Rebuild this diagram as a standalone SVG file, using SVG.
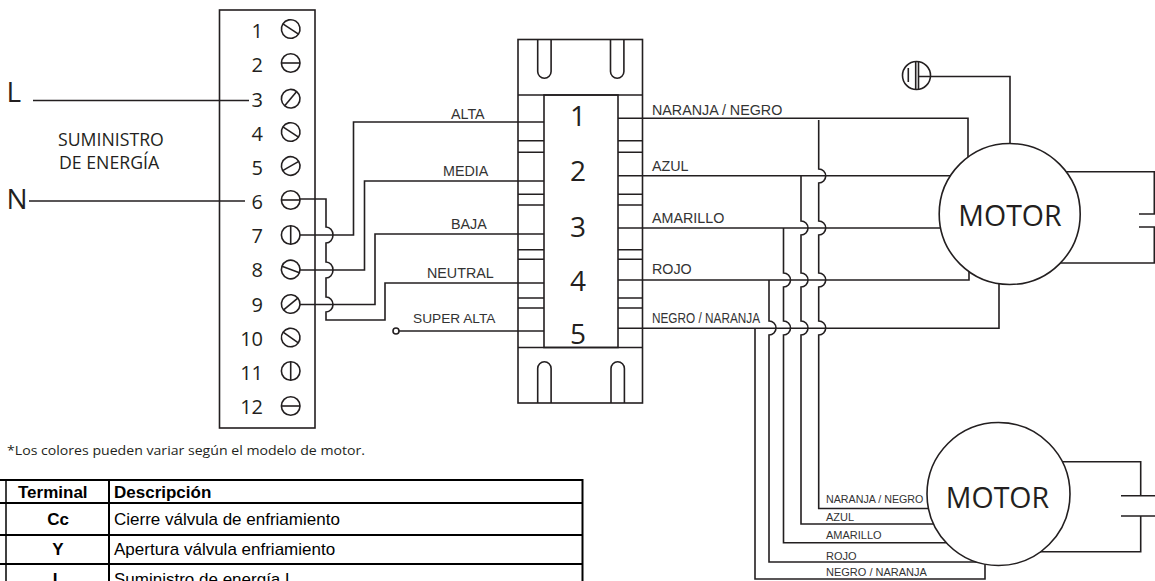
<svg xmlns="http://www.w3.org/2000/svg" width="1155" height="581" viewBox="0 0 1155 581">
<style>
.s{fill:none;stroke:#231f20;stroke-width:1.6}
.sf{fill:#fff;stroke:#231f20;stroke-width:1.6}
.t{stroke:#231f20;stroke-width:1.5;fill:none}
.n{font-family:"Open Sans",sans-serif;font-size:20px;fill:#231f20;text-anchor:end}
.c{font-family:"Open Sans",sans-serif;font-size:28px;fill:#231f20;text-anchor:middle}
.l{font-family:"Liberation Sans",Arial,sans-serif;font-size:14.3px;fill:#333}
.m{font-family:"Liberation Sans",Arial,sans-serif;font-size:11px;fill:#333}
.o{font-family:"Open Sans",sans-serif;fill:#231f20}
.h{font-family:"Liberation Sans",Arial,sans-serif;font-size:17px;fill:#000}
.hb{font-weight:700}
.tl{fill:none;stroke:#000;stroke-width:2}
</style>
<defs>
<g id="screw"><circle r="9.3" class="sf"/><line x1="-9.3" x2="9.3" class="s"/></g>
</defs>

<g id="table">
<path class="tl" d="M0 480H582.5V581M0 503H582.5M0 535H582.5M0 564H582.5M109 480V581"/>
<path d="M6 480V581" fill="none" stroke="#000" stroke-width="1.5"/>
<text class="h hb" x="18" y="498">Terminal</text>
<text class="h hb" x="114" y="498">Descripción</text>
<text class="h hb" x="58" y="525" text-anchor="middle">Cc</text>
<text class="h" x="114" y="525">Cierre válvula de enfriamiento</text>
<text class="h hb" x="58" y="555" text-anchor="middle">Y</text>
<text class="h" x="114" y="555">Apertura válvula enfriamiento</text>
<text class="h hb" x="58" y="585" text-anchor="middle">L</text>
<text class="h" x="114" y="585">Suministro de energía L</text>
</g>

<g id="supply">
<text class="o" x="6.5" y="102" font-size="28">L</text>
<text class="o" x="6.5" y="209" font-size="28">N</text>
<text class="o" x="58" y="146" font-size="17.7">SUMINISTRO</text>
<text class="o" x="59" y="169" font-size="17.7">DE ENERGÍA</text>
<text class="o" x="7" y="455" font-size="13" textLength="358" lengthAdjust="spacingAndGlyphs">*Los colores pueden variar según el modelo de motor.</text>
</g>

<g id="terminal-block">
<rect x="219.5" y="10" width="95.5" height="418" class="s"/>
<g class="numbers">
<text class="n" x="263" y="38">1</text><text class="n" x="263" y="72">2</text><text class="n" x="263" y="107">3</text><text class="n" x="263" y="141">4</text><text class="n" x="263" y="175">5</text><text class="n" x="263" y="209">6</text><text class="n" x="263" y="243">7</text><text class="n" x="263" y="277">8</text><text class="n" x="263" y="312">9</text><text class="n" x="263" y="346">10</text><text class="n" x="263" y="380">11</text><text class="n" x="263" y="414">12</text>
</g>
<use href="#screw" transform="translate(290.7,29) rotate(33)"/>
<use href="#screw" transform="translate(290.7,63)"/>
<use href="#screw" transform="translate(290.7,98.7) rotate(-50)"/>
<use href="#screw" transform="translate(290.7,132) rotate(33)"/>
<use href="#screw" transform="translate(290.7,166) rotate(-30)"/>
<use href="#screw" transform="translate(290.7,200)"/>
<use href="#screw" transform="translate(290.7,235) rotate(90)"/>
<use href="#screw" transform="translate(290.7,269.5) rotate(20)"/>
<use href="#screw" transform="translate(290.7,304) rotate(-40)"/>
<use href="#screw" transform="translate(290.7,337.5) rotate(35)"/>
<use href="#screw" transform="translate(290.7,371)  rotate(90)"/>
<use href="#screw" transform="translate(290.7,406)"/>
</g>

<g id="connector-block">
<rect x="518" y="39.5" width="124.5" height="363.5" class="s"/>
<rect x="544" y="95" width="74" height="252.5" class="s"/>
<path class="s" d="M518 95H642.5M518 347.5H642.5"/>
<path class="s" d="M537.7 40V71.5a6.7 6.7 0 0 0 13.4 0V40M610.5 40V71.5a6.7 6.7 0 0 0 13.4 0V40"/>
<path class="s" d="M537.7 403V368.5a6.7 6.7 0 0 1 13.4 0V403M611 403V368.5a6.7 6.7 0 0 1 13.4 0V403"/>
<path class="t" d="M518 140.7H544M518 152.3H544M518 194.3H544M518 205H544M518 249.7H544M518 259.3H544M518 298H544M518 308H544"/>
<path class="t" d="M618 140.7H642.5M618 152.3H642.5M618 194.3H642.5M618 205H642.5M618 249.7H642.5M618 259.3H642.5M618 298H642.5M618 308H642.5"/>
<text class="c" x="578" y="126">1</text>
<text class="c" x="578" y="180.7">2</text>
<text class="c" x="578" y="236.7">3</text>
<text class="c" x="578" y="291">4</text>
<text class="c" x="578" y="344">5</text>
</g>

<g id="connectors">
<path class="s" d="M33 100.5H249M29 201H245"/>
<path class="s" d="M300 199H326V227a7 8 0 0 1 0 16V262a7 8 0 0 1 0 16V297a7 7.5 0 0 1 0 15V320H385V283H544"/>
<path class="s" d="M300 235H353.5V122H544"/>
<path class="s" d="M300 270H364.5V181H544"/>
<path class="s" d="M300 304.5H375V234H544"/>
<path class="s" d="M399 331H544"/>
<circle cx="396" cy="331" r="3" class="sf"/>
<path class="s" d="M618 118.3H968V165"/>
<path class="s" d="M618 175.7H960"/>
<path class="s" d="M618 228H960"/>
<path class="s" d="M618 280H969V265"/>
<path class="s" d="M618 328.3H999V280"/>
<path class="s" d="M818.7 120V169a7 7 0 0 1 0 14V221a7 7 0 0 1 0 14V273a7 7 0 0 1 0 14V321a7 7 0 0 1 0 14V508.5H940"/>
<path class="s" d="M801 176V221a7 7 0 0 1 0 14V273a7 7 0 0 1 0 14V321a7 7 0 0 1 0 14V524H945"/>
<path class="s" d="M783.5 228V273a7 7 0 0 1 0 14V321a7 7 0 0 1 0 14V542.7H960"/>
<path class="s" d="M769 280V321a7 7 0 0 1 0 14V562H980"/>
<path class="s" d="M755 328.3V579H985V560"/>
<path class="s" d="M918.5 76.5H1010V145"/>
<path class="s" d="M1050 171.7H1154.3V214M1139 214H1155M1139 227H1155M1154.3 227V263H1040"/>
<path class="s" d="M1050 461.7H1140.7V495.7M1121 495.7H1155M1121 516H1155M1140.7 516V551.7H1030"/>
</g>

<g id="wire-labels">
<text class="l" x="451" y="118.5">ALTA</text>
<text class="l" x="443" y="176">MEDIA</text>
<text class="l" x="451" y="229">BAJA</text>
<text class="l" x="427" y="277.7">NEUTRAL</text>
<text class="l" x="413" y="323" style="font-size:13.7px">SUPER ALTA</text>
<text class="l" x="652" y="115">NARANJA / NEGRO</text>
<text class="l" x="652" y="171.3">AZUL</text>
<text class="l" x="652" y="223">AMARILLO</text>
<text class="l" x="652" y="274">ROJO</text>
<text class="l" x="652" y="322.7" textLength="108" lengthAdjust="spacingAndGlyphs">NEGRO / NARANJA</text>
<text class="m" x="826" y="502.7" style="font-size:10.7px">NARANJA / NEGRO</text>
<text class="m" x="826" y="520.7">AZUL</text>
<text class="m" x="826" y="538.7">AMARILLO</text>
<text class="m" x="826" y="560">ROJO</text>
<text class="m" x="826" y="575.7">NEGRO / NARANJA</text>
</g>

<g id="ground">
<circle cx="916.5" cy="75.5" r="14" class="sf"/>
<path class="s" d="M915.7 62V89M918.5 62V89M908.3 68V82M918.5 76.5H930.5"/>
</g>

<g id="motor-1">
<circle cx="1009.7" cy="214" r="70.5" class="sf"/>
<text class="o" x="1010" y="226" font-size="28.5" text-anchor="middle" fill="#000">MOTOR</text>
</g>

<g id="motor-2">
<circle cx="998.5" cy="494" r="71.5" class="sf"/>
<text class="o" x="997.5" y="507.7" font-size="28.5" text-anchor="middle">MOTOR</text>
</g>
</svg>
